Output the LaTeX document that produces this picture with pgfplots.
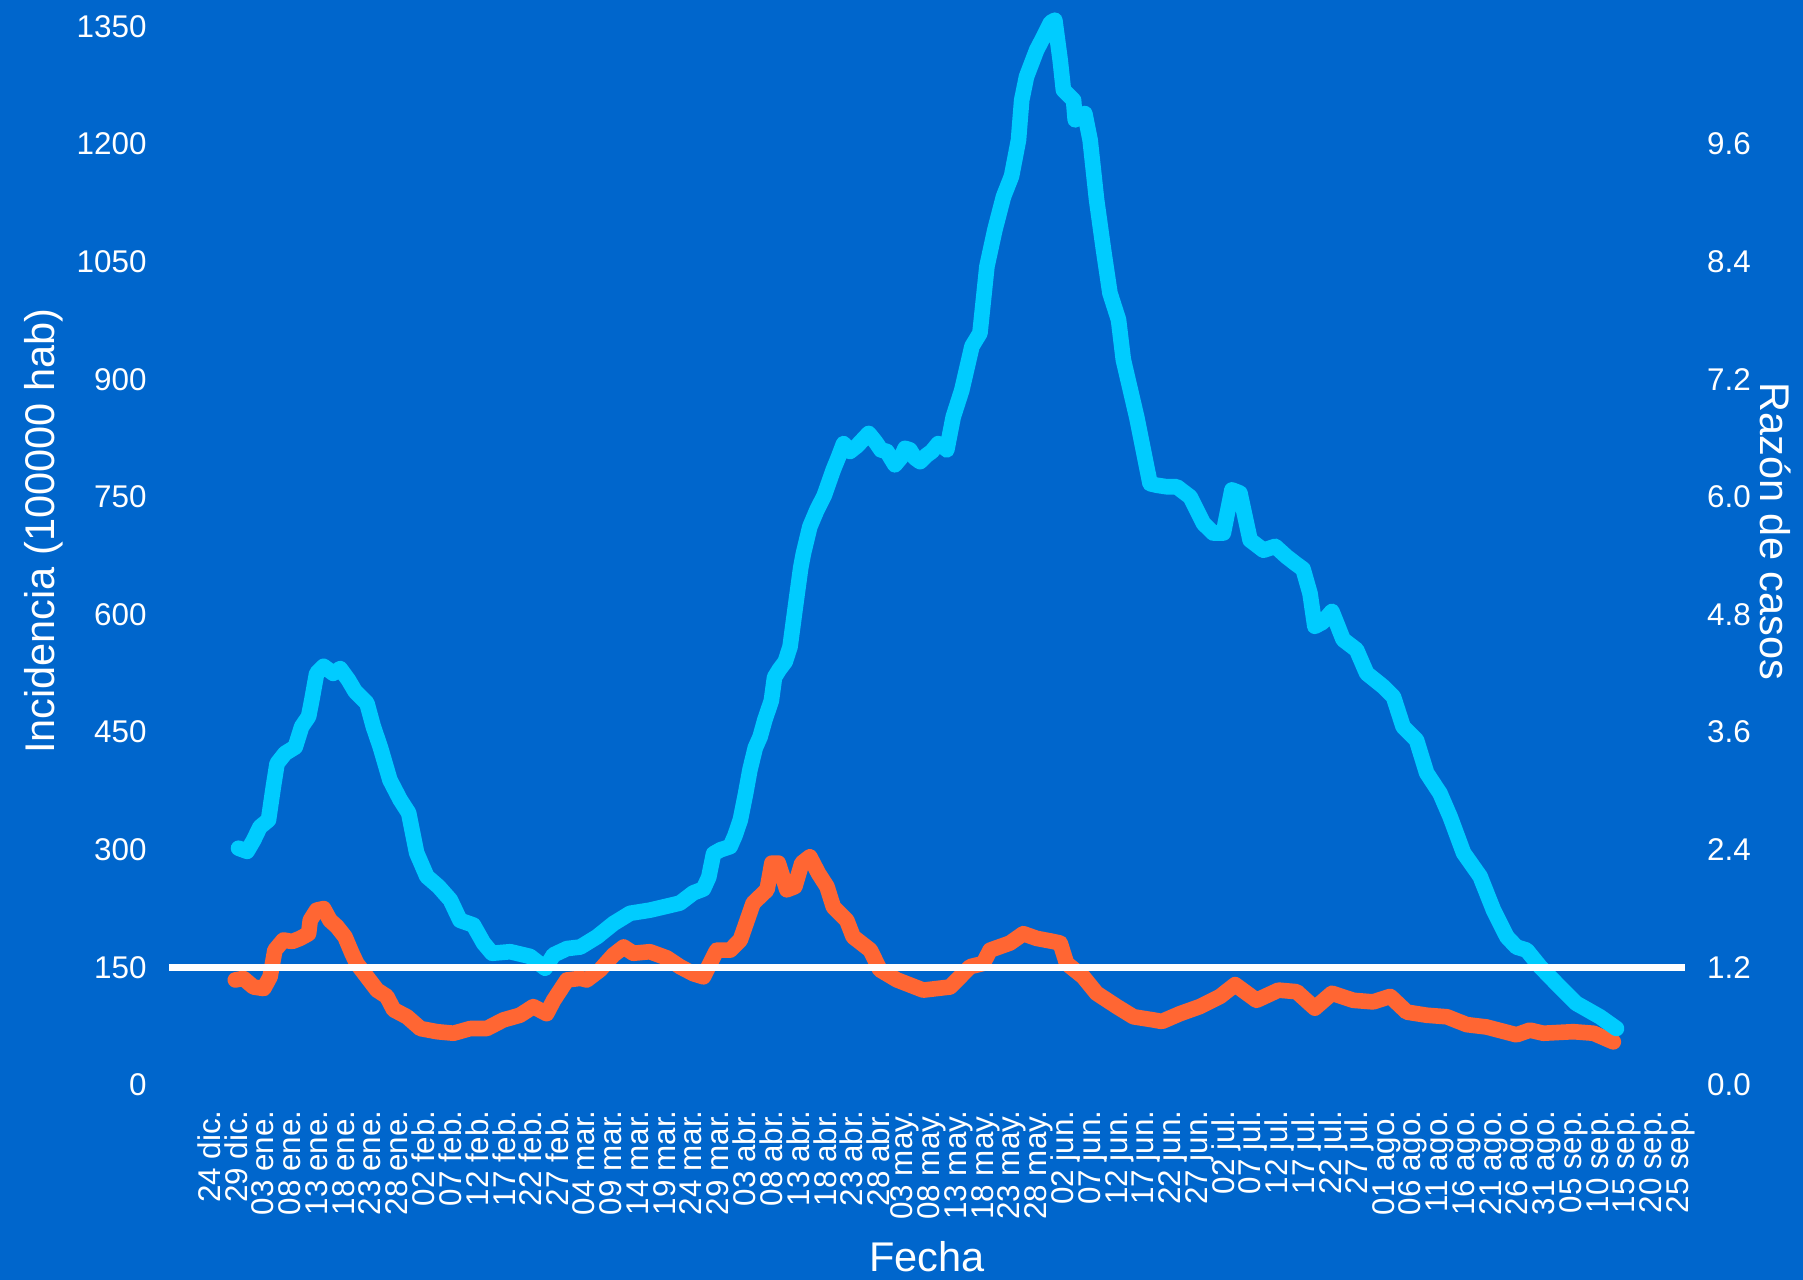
\documentclass[border=0pt]{standalone}
\usepackage{fontspec}
\setmainfont{Liberation Sans}
\usepackage{pgfplots}
\pgfplotsset{compat=1.18}
\definecolor{bgblue}{HTML}{0066CC}
\definecolor{lineblue}{HTML}{00CCFF}
\definecolor{lineorange}{HTML}{FF6633}
\pgfplotsset{
  base/.style={
    scale only axis, width=758bp, height=541bp,
    at={(0,0)}, anchor=south west,
    xmin=-7.6, xmax=275.8,
    axis line style={draw=none},
    major tick length=0pt,
    tick style={draw=none},
    clip=false,
    scaled ticks=false,
    /pgf/number format/assume math mode=true,
    /pgf/number format/1000 sep={},
    tick label style={font=\fontsize{15.7bp}{18bp}\selectfont, text=white},
  },
}
\newcommand{\titlefont}{\fontsize{20.75bp}{24bp}\selectfont}
\begin{document}
\begin{tikzpicture}
\fill[bgblue] (-84.5bp,-97.5bp) rectangle (817bp,542.5bp);
% right axis: Razon de casos (orange)
\begin{axis}[base, axis x line=none, axis y line*=right,
  ymin=0, ymax=11.04,
  ytick={0,1.2,2.4,3.6,4.8,6,7.2,8.4,9.6},
  yticklabel style={anchor=west, inner xsep=10.85bp, inner ysep=0pt,
     /pgf/number format/fixed, /pgf/number format/fixed zerofill, /pgf/number format/precision=1},
]
\addplot[lineorange, line width=7.8bp, line join=round, line cap=round] coordinates {
(4.8,1.072) (6.3,1.088) (8.2,1.000) (10.1,0.984) (11.3,1.104) (12.2,1.376) (13.8,1.480) (15.4,1.464)
(16.9,1.496) (18.5,1.544) (18.8,1.680) (20.0,1.784) (21.3,1.800) (22.5,1.680) (23.8,1.616) (25.3,1.512)
(26.6,1.344) (27.5,1.240) (29.4,1.104) (31.3,0.968) (33.1,0.904) (34.4,0.768) (36.9,0.696) (39.4,0.576)
(42.5,0.544) (45.6,0.528) (48.7,0.576) (51.8,0.576) (54.9,0.664) (58.0,0.712) (60.5,0.800) (63.0,0.728)
(64.3,0.864) (66.8,1.072) (69.3,1.088) (70.5,1.072) (73.0,1.176) (75.5,1.328) (77.4,1.408) (79.2,1.344)
(82.3,1.360) (85.5,1.296) (87.9,1.208) (90.4,1.136) (92.3,1.104) (94.8,1.376) (97.3,1.376) (99.2,1.480)
(101.6,1.856) (104.2,1.992) (105.1,2.264) (106.3,2.264) (107.9,1.992) (109.4,2.024) (110.7,2.264) (112.2,2.328)
(113.8,2.160) (115.4,2.024) (116.6,1.816) (119.1,1.680) (120.3,1.512) (123.5,1.376) (125.3,1.176) (128.5,1.072)
(133.4,0.968) (138.4,1.000) (142.2,1.208) (144.6,1.240) (145.9,1.376) (149.6,1.448) (152.1,1.544) (154.6,1.496)
(157.7,1.464) (159.0,1.448) (160.2,1.240) (163.3,1.104) (165.8,0.936) (169.6,0.800) (172.7,0.696) (176.4,0.664)
(178.0,0.648) (181.4,0.728) (185.1,0.800) (188.9,0.904) (191.7,1.024) (195.7,0.864) (199.8,0.968) (203.2,0.952)
(206.6,0.784) (209.8,0.936) (213.8,0.864) (217.5,0.848) (220.7,0.904) (223.8,0.744) (227.5,0.712) (231.3,0.696)
(235.0,0.616) (238.7,0.592) (244.3,0.512) (246.8,0.560) (249.3,0.528) (254.9,0.544) (258.7,0.528) (262.4,0.440)
};
\node[rotate=-90, anchor=center, font=\titlefont, text=white] at (axis description cs:1.060,0.5117) {Razón de casos};
\end{axis}
% left axis: Incidencia (blue)
\begin{axis}[base, axis x line*=bottom, axis y line*=left,
  ymin=0, ymax=1380,
  ytick={0,150,...,1350},
  xtick={0,5,...,275},
  xticklabels={24 dic., 29 dic., 03 ene., 08 ene., 13 ene., 18 ene., 23 ene., 28 ene.,
    02 feb., 07 feb., 12 feb., 17 feb., 22 feb., 27 feb.,
    04 mar., 09 mar., 14 mar., 19 mar., 24 mar., 29 mar.,
    03 abr., 08 abr., 13 abr., 18 abr., 23 abr., 28 abr.,
    03 may., 08 may., 13 may., 18 may., 23 may., 28 may.,
    02 jun., 07 jun., 12 jun., 17 jun., 22 jun., 27 jun.,
    02 jul., 07 jul., 12 jul., 17 jul., 22 jul., 27 jul.,
    01 ago., 06 ago., 11 ago., 16 ago., 21 ago., 26 ago., 31 ago.,
    05 sep., 10 sep., 15 sep., 20 sep., 25 sep.},
  xticklabel style={rotate=90, anchor=east, inner xsep=12.5bp, inner ysep=0pt},
  yticklabel style={anchor=east, inner xsep=11bp, inner ysep=0pt},
]
\addplot[lineblue, line width=7.8bp, line join=round, line cap=round] coordinates {
(5.4,302) (7.0,298) (8.2,312) (9.4,329) (11.0,338) (11.9,380) (12.6,410) (14.1,423) (16.0,431) (17.2,457)
(18.5,470) (19.1,491) (20.0,525) (21.3,534) (23.1,525) (24.4,531) (25.9,517) (27.2,502) (29.4,487) (30.6,457)
(31.9,431) (33.7,389) (35.6,364) (37.2,347) (38.7,296) (40.6,266) (42.8,253) (45.0,236) (46.8,210) (49.3,204)
(51.2,181) (52.8,168) (56.2,170) (59.9,164) (62.7,149) (64.3,166) (66.8,174) (69.3,176) (72.4,189) (75.5,206)
(78.6,219) (82.3,223) (84.8,227) (87.9,232) (90.4,245) (92.3,250) (93.3,265) (94.2,295) (95.5,300) (97.3,304)
(98.2,318) (99.2,338) (100.2,372) (101.0,402) (102.0,430) (102.9,444) (103.8,466) (105.0,490) (105.6,520) (106.5,530)
(107.6,540) (108.5,559) (109.5,610) (110.5,660) (111.0,678) (112.2,712) (113.5,733) (114.9,752) (116.6,785) (117.5,800)
(118.5,818) (119.7,808) (121.0,815) (123.2,831) (124.5,820) (125.5,810) (126.6,808) (127.3,800) (128.1,791) (129.2,800)
(130.0,812) (130.9,810) (131.8,800) (132.8,795) (134.0,803) (135.0,808) (136.2,818) (137.2,815) (137.8,810) (139.0,852)
(140.6,886) (142.5,942) (144.0,959) (145.3,1044) (146.8,1091) (148.4,1133) (149.9,1159) (151.2,1205) (151.8,1256) (152.7,1286)
(154.6,1320) (155.9,1337) (157.2,1355) (158.0,1358) (159.0,1307) (159.6,1269) (161.5,1256) (161.8,1231) (163.6,1239) (164.6,1205)
(165.8,1129) (167.1,1065) (168.3,1010) (169.9,976) (170.8,925) (173.3,852) (175.8,767) (177.0,765) (178.9,763) (180.8,763)
(183.3,750) (185.8,716) (187.6,704) (189.5,704) (191.1,759) (192.6,755) (194.5,695) (197.0,682) (199.2,687) (201.3,674)
(203.0,665) (204.4,658) (205.7,627) (206.6,585) (208.0,590) (209.8,604) (211.9,568) (214.4,555) (216.3,525) (219.4,508)
(221.3,495) (223.1,457) (225.6,440) (227.5,398) (230.0,372) (231.9,342) (234.4,296) (237.5,266) (240.0,223) (242.5,189)
(244.3,176) (246.2,172) (248.7,151) (252.4,125) (255.5,104) (259.9,87) (263.0,72)
};
\addplot[white, line width=3.8bp] coordinates {(-7.6,150) (275.8,150)};
\node[rotate=90, anchor=center, font=\titlefont, text=white] at (axis description cs:-0.0824,0.5117) {Incidencia (100000 hab)};
\node[anchor=center, font=\titlefont, text=white] at (axis description cs:0.5,-0.159) {Fecha};
\end{axis}
\pgfresetboundingbox
\path[use as bounding box] (-84.5bp,-97.5bp) rectangle (817bp,542.5bp);
\end{tikzpicture}
\end{document}
